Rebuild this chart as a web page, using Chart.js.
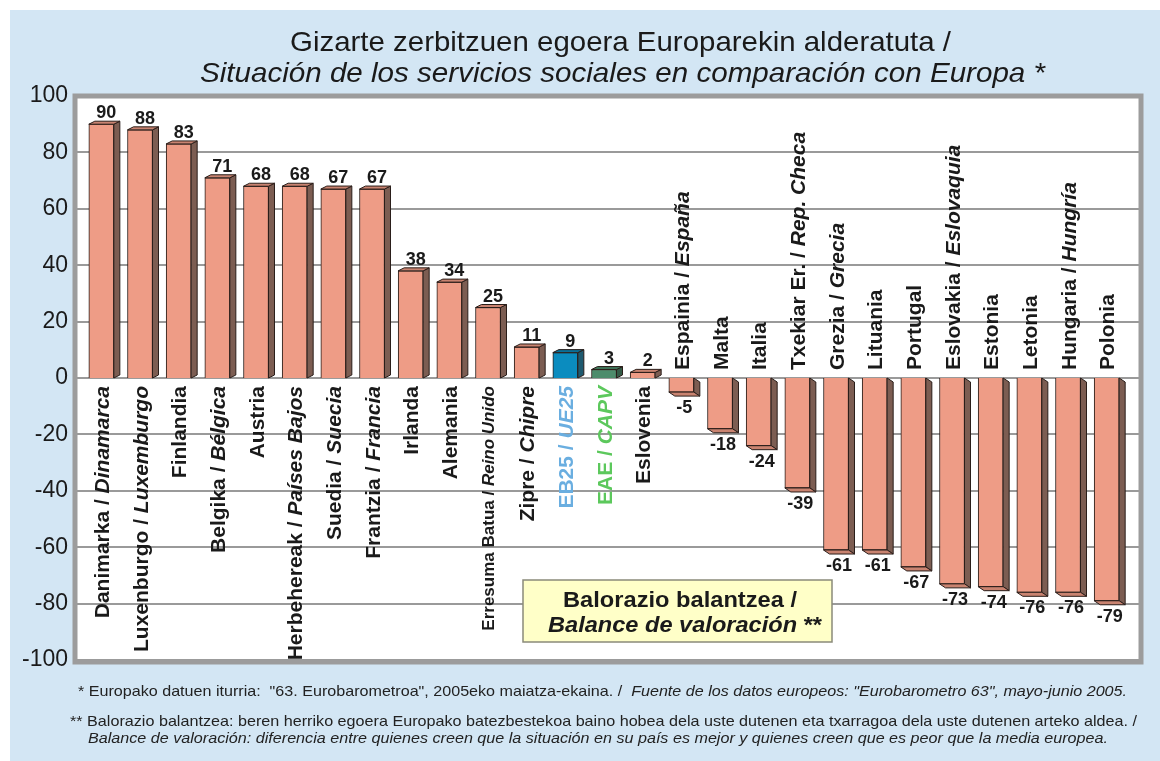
<!DOCTYPE html>
<html>
<head>
<meta charset="utf-8">
<script src="https://cdn.jsdelivr.net/npm/chart.js@4/dist/chart.umd.min.js"></script>
<style>
  body { margin: 0; background: #ffffff; }
  #wrap { width: 1160px; height: 761px; }
</style>
</head>
<body>
<div id="wrap"><canvas id="chart" width="1160" height="761"></canvas></div>
<script>
// Basque names, Spanish names (empty when the name is the same), values
const basqueNames = ['Danimarka', 'Luxenburgo', 'Finlandia', 'Belgika', 'Austria', 'Herbehereak',
  'Suedia', 'Frantzia', 'Irlanda', 'Alemania', 'Erresuma Batua', 'Zipre', 'EB25', 'EAE', 'Eslovenia',
  'Espainia', 'Malta', 'Italia', 'Txekiar Er.', 'Grezia', 'Lituania', 'Portugal', 'Eslovakia',
  'Estonia', 'Letonia', 'Hungaria', 'Polonia'];
const spanishNames = ['Dinamarca', 'Luxemburgo', '', 'Bélgica', '', 'Países Bajos',
  'Suecia', 'Francia', '', '', 'Reino Unido', 'Chipre', 'UE25', 'CAPV', '',
  'España', '', '', 'Rep. Checa', 'Grecia', '', '', 'Eslovaquia',
  '', '', 'Hungría', ''];
const balance = [90, 88, 83, 71, 68, 68, 67, 67, 38, 34, 25, 11, 9, 3, 2,
  -5, -18, -24, -39, -61, -61, -67, -73, -74, -76, -76, -79];
const yTicks = [-100, -80, -60, -40, -20, 0, 20, 40, 60, 80, 100];

const FONT = '"Liberation Sans", Arial, Helvetica, sans-serif';
const INK = '#1a1a1a';

// special bars (EU average and Basque Country)
const frontColor = i => basqueNames[i] === 'EB25' ? '#0b8cbf' : basqueNames[i] === 'EAE' ? '#4d8c6c' : '#ee9c86';
const sideColor = i => basqueNames[i] === 'EB25' ? '#1f5a70' : basqueNames[i] === 'EAE' ? '#335a46' : '#7c5d52';
const capColor = i => basqueNames[i] === 'EB25' ? '#0a6f98' : basqueNames[i] === 'EAE' ? '#3f7358' : '#c98370';
const labelColor = i => basqueNames[i] === 'EB25' ? '#6aaee0' : basqueNames[i] === 'EAE' ? '#5cc85c' : INK;

function segsFor(i) {
  const segs = [];
  if (spanishNames[i]) {
    segs.push({ t: basqueNames[i] + ' / ', it: false });
    segs.push({ t: spanishNames[i], it: true });
  } else {
    segs.push({ t: basqueNames[i], it: false });
  }
  return segs;
}

function fontFor(seg, size, weight) {
  return (seg.it ? 'italic ' : '') + weight + ' ' + size + 'px ' + FONT;
}

function runWidth(ctx, segs, size, weight) {
  let total = 0;
  segs.forEach(s => { ctx.font = fontFor(s, size, weight); total += ctx.measureText(s.t).width; });
  return total;
}

// draw a run of mixed regular / italic segments starting at x
function drawRun(ctx, segs, x, y, size, weight, fitWidth) {
  const total = runWidth(ctx, segs, size, weight);
  ctx.save();
  ctx.translate(x, y);
  if (fitWidth) ctx.scale(fitWidth / total, 1);
  let cx = 0;
  segs.forEach(s => {
    ctx.font = fontFor(s, size, weight);
    ctx.fillText(s.t, cx, 0);
    cx += ctx.measureText(s.t).width;
  });
  ctx.restore();
  return total;
}

const backdrop = {
  id: 'backdrop',
  beforeDraw(chart) {
    const { ctx, chartArea: a, scales: { y } } = chart;
    ctx.save();
    ctx.fillStyle = '#d3e6f4';
    ctx.fillRect(10, 10, 1150, 751);

    const fl = a.left - 7, fr = a.right + 15;
    ctx.fillStyle = '#ffffff';
    ctx.fillRect(fl, a.top, fr - fl, a.bottom - a.top);

    ctx.strokeStyle = '#9a9a9a';
    ctx.lineWidth = 2;
    yTicks.forEach(v => {
      const py = Math.round(y.getPixelForValue(v));
      ctx.beginPath();
      ctx.moveTo(fl, py);
      ctx.lineTo(fr, py);
      ctx.stroke();
    });

    ctx.lineWidth = 5;
    ctx.strokeStyle = '#9c9c9c';
    ctx.strokeRect(fl, a.top, fr - fl, a.bottom - a.top + 2);

    // legend-like box
    ctx.fillStyle = '#ffffc8';
    ctx.fillRect(523, 580, 309, 62);
    ctx.lineWidth = 1.5;
    ctx.strokeStyle = '#8a8a7a';
    ctx.strokeRect(523, 580, 309, 62);
    ctx.fillStyle = INK;
    ctx.textAlign = 'left';
    ctx.textBaseline = 'alphabetic';
    const l1 = [{ t: 'Balorazio balantzea /', it: false }];
    const l2 = [{ t: 'Balance de valoración', it: true }, { t: ' **', it: false }];
    drawRun(ctx, l1, 680 - 117, 607, 22, 'bold', 234);
    drawRun(ctx, l2, 685 - 137, 632, 22, 'bold', 274);

    // title
    const t1 = [{ t: 'Gizarte zerbitzuen egoera Europarekin alderatuta /', it: false }];
    const t2 = [{ t: 'Situación de los servicios sociales en comparación con Europa *', it: true }];
    drawRun(ctx, t1, 290, 51, 28, 'normal', 661);
    drawRun(ctx, t2, 200, 82, 28, 'normal', 845);

    // footnotes
    ctx.fillStyle = '#222222';
    drawRun(ctx, [
      { t: '* Europako datuen iturria:  "63. Eurobarometroa", 2005eko maiatza-ekaina. /  ', it: false },
      { t: 'Fuente de los datos europeos: "Eurobarometro 63", mayo-junio 2005.', it: true }
    ], 78, 696, 15, 'normal', 1049);
    drawRun(ctx, [
      { t: '** Balorazio balantzea: beren herriko egoera Europako batezbestekoa baino hobea dela uste dutenen eta txarragoa dela uste dutenen arteko aldea. /', it: false }
    ], 70, 726, 15, 'normal', 1067);
    drawRun(ctx, [
      { t: 'Balance de valoración: diferencia entre quienes creen que la situación en su país es mejor y quienes creen que es peor que la media europea.', it: true }
    ], 88, 743, 15, 'normal', 1020);
    ctx.restore();
  }
};

const bars3d = {
  id: 'bars3d',
  afterDatasetsDraw(chart) {
    const { ctx, scales: { y } } = chart;
    const zero = y.getPixelForValue(0);
    const meta = chart.getDatasetMeta(0);
    ctx.save();
    ctx.lineWidth = 1;
    ctx.strokeStyle = '#2a1e1a';
    meta.data.forEach((bar, i) => {
      const v = balance[i];
      const half = bar.width / 2;
      const l = bar.x - half, r = bar.x + half;
      const dx = 6, dy = v >= 0 ? -3 : 4;
      const top = Math.min(bar.y, zero), bot = Math.max(bar.y, zero);
      // side face
      ctx.fillStyle = sideColor(i);
      ctx.beginPath();
      ctx.moveTo(r, top); ctx.lineTo(r + dx, top + dy); ctx.lineTo(r + dx, bot + dy); ctx.lineTo(r, bot);
      ctx.closePath(); ctx.fill(); ctx.stroke();
      // cap face (top for positive, bottom for negative)
      const ey = v >= 0 ? top : bot;
      ctx.fillStyle = capColor(i);
      ctx.beginPath();
      ctx.moveTo(l, ey); ctx.lineTo(l + dx, ey + dy); ctx.lineTo(r + dx, ey + dy); ctx.lineTo(r, ey);
      ctx.closePath(); ctx.fill(); ctx.stroke();

      // value labels
      ctx.fillStyle = INK;
      ctx.font = 'bold 18px ' + FONT;
      ctx.textAlign = 'center';
      ctx.textBaseline = 'alphabetic';
      if (v >= 0) ctx.fillText(String(v), bar.x + 5, top - 6);
      else ctx.fillText(String(v), bar.x + 3, bot + 21);

      // category labels, rotated
      ctx.fillStyle = labelColor(i);
      const segs = segsFor(i);
      const size = basqueNames[i] === 'Erresuma Batua' ? 17 : 21;
      const w = runWidth(ctx, segs, size, 'bold');
      ctx.save();
      ctx.textAlign = 'left';
      if (v >= 0) {
        ctx.translate(bar.x + size * 0.36, zero + 8);
        ctx.rotate(-Math.PI / 2);
        drawRun(ctx, segs, -w, 0, size, 'bold');
      } else {
        ctx.translate(bar.x + size * 0.36, zero - 8);
        ctx.rotate(-Math.PI / 2);
        drawRun(ctx, segs, 0, 0, size, 'bold');
      }
      ctx.restore();
    });
    ctx.restore();
  }
};

new Chart(document.getElementById('chart'), {
  type: 'bar',
  data: {
    labels: basqueNames,
    datasets: [{
      data: balance,
      backgroundColor: balance.map((v, i) => frontColor(i)),
      borderColor: '#2a1e1a',
      borderWidth: 1,
      barThickness: 25
    }]
  },
  options: {
    responsive: false,
    animation: false,
    layout: { padding: { left: 10, right: 34, top: 96, bottom: 101 } },
    plugins: { legend: { display: false }, tooltip: { enabled: false } },
    scales: {
      x: { display: false },
      y: {
        min: -100, max: 100,
        afterFit: s => { s.width = 72; },
        ticks: { stepSize: 20, padding: 6, color: INK, font: { family: FONT, size: 23 } },
        grid: { display: false },
        border: { display: false }
      }
    }
  },
  plugins: [backdrop, bars3d]
});
</script>
</body>
</html>
